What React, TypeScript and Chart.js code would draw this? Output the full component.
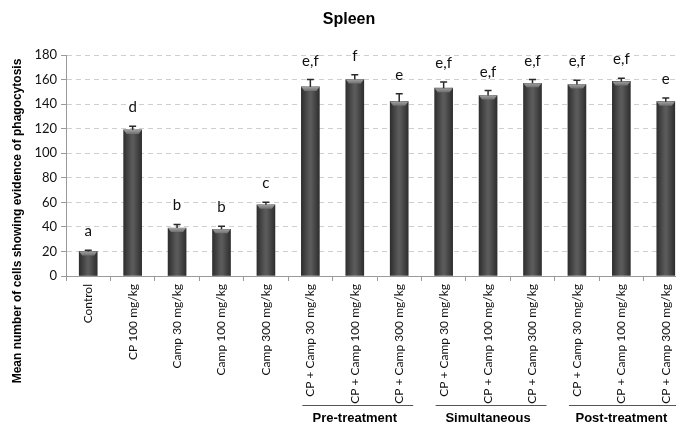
import React, { useEffect, useRef } from "react";
import { Chart, registerables } from "chart.js";

Chart.register(...registerables);

const categories = [
  "Control",
  "CP 100 mg/kg",
  "Camp 30 mg/kg",
  "Camp 100 mg/kg",
  "Camp 300 mg/kg",
  "CP + Camp 30 mg/kg",
  "CP + Camp 100 mg/kg",
  "CP + Camp 300 mg/kg",
  "CP + Camp 30 mg/kg",
  "CP + Camp 100 mg/kg",
  "CP + Camp 300 mg/kg",
  "CP + Camp 30 mg/kg",
  "CP + Camp 100 mg/kg",
  "CP + Camp 300 mg/kg",
];
const means = [20, 119, 39, 38, 58, 154, 160, 142, 153, 147, 157, 156, 158.5, 142];
const errors = [1, 3, 3, 2.5, 2, 6, 4, 6.5, 5, 4, 3, 3.5, 2.5, 3];
const letters = ["a", "d", "b", "b", "c", "e,f", "f", "e", "e,f", "e,f", "e,f", "e,f", "e,f", "e"];
const groupLabels = ["Pre-treatment", "Simultaneous", "Post-treatment"];
const groupFirst = [5, 8, 11];
const groupLast = [7, 10, 13];
const yMin = 0;
const yMax = 180;
const yStep = 20;
const chartTitle = "Spleen";
const yTitle = "Mean number of cells showing evidence of phagocytosis";

const BAR_W = 18;

const overlay = {
  id: "overlay",
  afterDatasetsDraw(chart: any) {
    const { ctx, scales } = chart;
    const xs = scales.x;
    const ys = scales.y;
    ctx.save();
    means.forEach((v, i) => {
      const cx = xs.getPixelForValue(i);
      const top = ys.getPixelForValue(v);
      const g = ctx.createLinearGradient(0, top, 0, top + 4);
      g.addColorStop(0, "#a0a0a0");
      g.addColorStop(1, "#707070");
      ctx.fillStyle = g;
      ctx.beginPath();
      ctx.moveTo(cx - BAR_W / 2, top);
      ctx.lineTo(cx + BAR_W / 2, top);
      ctx.lineTo(cx + BAR_W / 2 - 3, top + 4);
      ctx.lineTo(cx - BAR_W / 2 + 3, top + 4);
      ctx.closePath();
      ctx.fill();
      const et = ys.getPixelForValue(v + errors[i]);
      ctx.strokeStyle = "#2a2a2a";
      ctx.lineWidth = 1.5;
      ctx.beginPath();
      ctx.moveTo(cx, top);
      ctx.lineTo(cx, et);
      ctx.moveTo(cx - 3.5, et);
      ctx.lineTo(cx + 3.5, et);
      ctx.stroke();
      ctx.fillStyle = "#111";
      ctx.font = "15px Lato";
      ctx.textAlign = "center";
      ctx.textBaseline = "alphabetic";
      ctx.fillText(letters[i], cx, et - 14);
    });
    ctx.restore();
  },
  afterDraw(chart: any) {
    const { ctx, scales } = chart;
    const xs = scales.x;
    ctx.save();
    ctx.fillStyle = "#000";
    ctx.font = "bold 16px 'Liberation Sans'";
    ctx.textAlign = "center";
    ctx.textBaseline = "middle";
    ctx.fillText(chartTitle, 349, 20);
    ctx.save();
    ctx.translate(18, 221);
    ctx.rotate(-Math.PI / 2);
    ctx.font = "bold 12px 'Liberation Sans'";
    ctx.fillText(yTitle, 0, 0);
    ctx.restore();
    groupLabels.forEach((lab, k) => {
      const x1 = xs.getPixelForValue(groupFirst[k]) - 8;
      const x2 = xs.getPixelForValue(groupLast[k]) + 14;
      const xm = xs.getPixelForValue((groupFirst[k] + groupLast[k]) / 2);
      ctx.strokeStyle = "#555";
      ctx.lineWidth = 1;
      ctx.beginPath();
      ctx.moveTo(x1, 405.5);
      ctx.lineTo(x2, 405.5);
      ctx.stroke();
      ctx.fillStyle = "#000";
      ctx.font = "bold 13px 'Liberation Sans'";
      ctx.textAlign = "center";
      ctx.textBaseline = "middle";
      ctx.fillText(lab, xm, 418);
    });
    ctx.restore();
  },
};

export default function App() {
  const ref = useRef<HTMLCanvasElement>(null);
  useEffect(() => {
    if (!ref.current) return;
    const chart = new Chart(ref.current, {
      type: "bar",
      data: {
        labels: categories,
        datasets: [
          {
            data: means,
            barThickness: BAR_W,
            borderWidth: 0,
            backgroundColor: (c: any) => {
              const ch = c.chart;
              const xs = ch.scales && ch.scales.x;
              if (!xs || c.dataIndex === undefined || !ch.chartArea) return "#444";
              const cx = xs.getPixelForValue(c.dataIndex);
              const g = ch.ctx.createLinearGradient(cx - BAR_W / 2, 0, cx + BAR_W / 2, 0);
              g.addColorStop(0, "#2e2e2e");
              g.addColorStop(0.45, "#5a5a5a");
              g.addColorStop(0.55, "#5a5a5a");
              g.addColorStop(1, "#2e2e2e");
              return g;
            },
          },
        ],
      },
      plugins: [overlay],
      options: {
        responsive: false,
        animation: false,
        devicePixelRatio: 1,
        layout: { padding: { left: 0, right: 12, top: 55, bottom: 0 } },
        plugins: {
          legend: { display: false },
          tooltip: { enabled: false },
          title: { display: false },
        },
        scales: {
          x: {
            offset: true,
            grid: {
              offset: true,
              drawOnChartArea: false,
              drawTicks: true,
              tickLength: 5,
              tickColor: "#9a9a9a",
              color: "#9a9a9a",
            },
            border: { color: "#9a9a9a", width: 1 },
            ticks: {
              autoSkip: false,
              minRotation: 90,
              maxRotation: 90,
              padding: 3,
              color: "#111",
              font: { family: "Lato", size: 12 },
            },
            afterFit: (s: any) => {
              s.height = 151;
            },
          },
          y: {
            min: yMin,
            max: yMax,
            ticks: {
              stepSize: yStep,
              padding: 4,
              color: "#111",
              font: { family: "Lato", size: 13 },
            },
            grid: {
              color: "#cfcfcf",
              tickColor: "#9a9a9a",
              tickLength: 5,
              drawTicks: true,
            },
            border: { color: "#9a9a9a", width: 1, dash: [5, 4] },
            afterFit: (s: any) => {
              s.width = 66;
            },
          },
        },
      },
    } as any);
    return () => chart.destroy();
  }, []);
  return (
    <div
      style={{
        position: "absolute",
        left: 0,
        top: 0,
        width: 676,
        height: 427,
        overflow: "hidden",
        background: "#fff",
      }}
    >
      <canvas ref={ref} width={700} height={427} style={{ display: "block" }} />
    </div>
  );
}
